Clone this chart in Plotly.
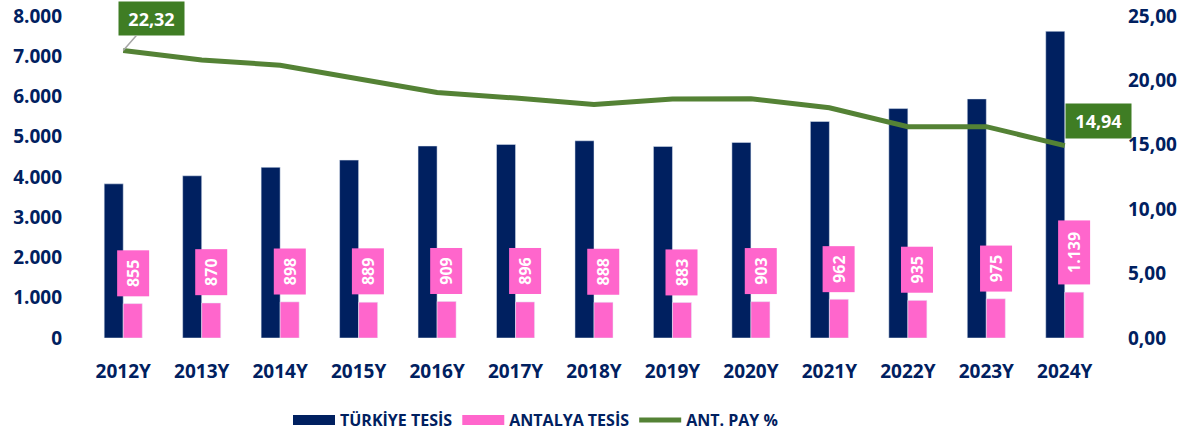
import plotly.graph_objects as go

years = ["2012Y", "2013Y", "2014Y", "2015Y", "2016Y", "2017Y", "2018Y",
         "2019Y", "2020Y", "2021Y", "2022Y", "2023Y", "2024Y"]
turkiye_tesis = [3830, 4030, 4240, 4420, 4770, 4810, 4900, 4760, 4860, 5380, 5700, 5940, 7620]
antalya_tesis = [855, 870, 898, 889, 909, 896, 888, 883, 903, 962, 935, 975, 1139]
ant_pay = [22.32, 21.59, 21.18, 20.11, 19.06, 18.63, 18.12, 18.55, 18.58, 17.88, 16.40, 16.41, 14.94]

NAVY = "#002060"
PINK = "#FF66CC"
GREEN = "#548235"
GREEN_BOX = "#3F7D24"
FONT = "Open Sans"

W, H = 1189, 435

def tr_int(v):
    return f"{v:,}".replace(",", ".")

def tr_dec(v):
    return f"{v:.2f}".replace(".", ",")

fig = go.Figure()
fig.add_trace(go.Bar(x=years, y=turkiye_tesis, name="TÜRKİYE TESİS",
                     marker=dict(color=NAVY), showlegend=False))
fig.add_trace(go.Bar(x=years, y=antalya_tesis, name="ANTALYA TESİS",
                     marker=dict(color=PINK), showlegend=False))
fig.add_trace(go.Scatter(x=years, y=ant_pay, name="ANT. PAY %", yaxis="y2",
                         mode="lines", line=dict(color=GREEN, width=5),
                         showlegend=False))

# legend-only entries (wide swatches)
fig.add_trace(go.Scatter(x=[years[0]], y=[None], mode="lines", name="TÜRKİYE TESİS",
                         line=dict(color=NAVY, width=11)))
fig.add_trace(go.Scatter(x=[years[0]], y=[None], mode="lines", name="ANTALYA TESİS",
                         line=dict(color=PINK, width=11)))
fig.add_trace(go.Scatter(x=[years[0]], y=[None], mode="lines", name="ANT. PAY %",
                         line=dict(color=GREEN, width=5)))

annotations = []
for yr, v in zip(years, antalya_tesis):
    txt = tr_int(v)
    annotations.append(dict(
        x=yr, y=v, xref="x", yref="y", text=f"<b>{txt}</b>", textangle=-90,
        showarrow=False, xshift=9.5, yshift=7, yanchor="bottom", xanchor="center",
        bgcolor=PINK, font=dict(family=FONT, size=16, color="white"),
        width=18 + 9 * len(txt), height=31, borderpad=0))

annotations.append(dict(
    x=years[0], y=ant_pay[0], xref="x", yref="y2", text=f"<b>{tr_dec(ant_pay[0])}</b>",
    showarrow=True, arrowhead=0, arrowcolor="#A6A6A6", arrowwidth=1.5, ax=28, ay=-32,
    bgcolor=GREEN_BOX, font=dict(family=FONT, size=18, color="white"),
    width=65, height=33, borderpad=0))
annotations.append(dict(
    x=years[-1], y=ant_pay[-1], xref="x", yref="y2", text=f"<b>{tr_dec(ant_pay[-1])}</b>",
    showarrow=False, xanchor="left", yanchor="bottom", yshift=7, xshift=0,
    bgcolor=GREEN_BOX, font=dict(family=FONT, size=18, color="white"),
    width=65, height=34, borderpad=0))

tickfont = dict(family=FONT, size=19, color=NAVY, weight="bold")

fig.update_layout(
    width=W, height=H,
    margin=dict(l=84, r=85, t=16, b=97, autoexpand=False),
    paper_bgcolor="white", plot_bgcolor="white",
    separators=",.",
    barmode="group", bargap=0.515, bargroupgap=0,
    font=dict(family=FONT, color=NAVY),
    xaxis=dict(range=[-0.5, 12.5], showgrid=False, showline=False, zeroline=False,
               ticks="", automargin=False, tickfont=tickfont, ticklabelstandoff=20),
    yaxis=dict(range=[0, 8000], tickvals=list(range(0, 8001, 1000)), tickformat=",d",
               showgrid=False, showline=False, zeroline=False, ticks="", automargin=False,
               tickfont=tickfont, ticklabelstandoff=21, ticklabeloverflow="allow"),
    yaxis2=dict(range=[0, 25], tickvals=[0, 5, 10, 15, 20, 25], tickformat=".2f",
                overlaying="y", side="right", automargin=False,
                showgrid=False, showline=False, zeroline=False, ticks="",
                tickfont=tickfont, ticklabelstandoff=23, ticklabeloverflow="allow"),
    legend=dict(orientation="h", x=288 / W, xanchor="left", xref="container",
                y=(H - 420) / H, yanchor="middle", yref="container",
                itemwidth=42, font=dict(family=FONT, size=16, color=NAVY, weight="bold"),
                bgcolor="rgba(0,0,0,0)"),
    annotations=annotations,
)

fig.write_html("out.html",
               config={"displayModeBar": False},
               post_script="document.body.style.margin='0';document.body.style.overflow='hidden';")
